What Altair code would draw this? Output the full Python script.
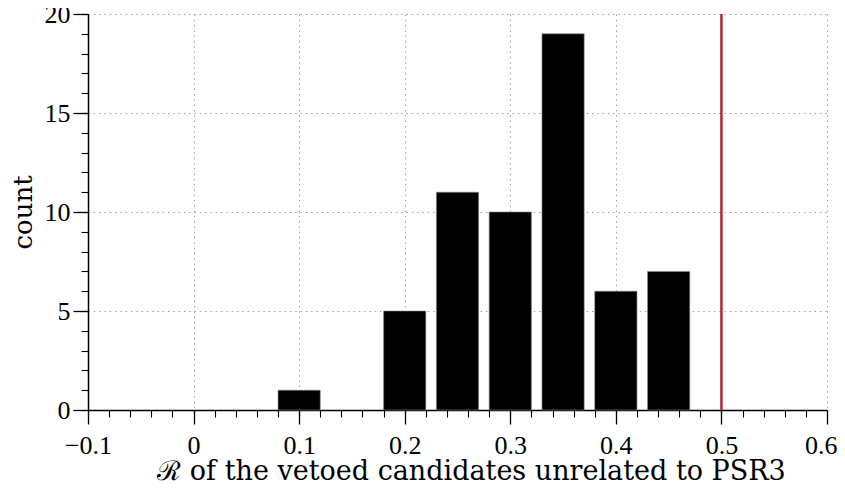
import altair as alt
import pandas as pd

# ---- data ----
bin_centers = [0.10, 0.20, 0.25, 0.30, 0.35, 0.40, 0.45]
bin_counts = [1, 5, 11, 10, 19, 6, 7]
bar_half_width = 0.02
threshold = [0.5]

x_major = [-0.1, 0.0, 0.1, 0.2, 0.3, 0.4, 0.5, 0.6]
x_minor = [round(-0.1 + 0.02 * i, 2) for i in range(36)]
y_major = [0, 5, 10, 15, 20]
y_minor = list(range(0, 21))

W, H = 739, 396
LABEL_FONT = "Liberation Serif"
TITLE_FONT = "DejaVu Serif"

df = pd.DataFrame({"center": bin_centers, "count": bin_counts})
thr = pd.DataFrame({"r": threshold})

xscale = alt.Scale(domain=[-0.1, 0.6], nice=False, zero=False)
yscale = alt.Scale(domain=[0, 20], nice=False)

x_axis = alt.Axis(
    orient="bottom", values=x_major, format="~g",
    tickSize=14, tickWidth=1.3, tickColor="black",
    domainColor="black", domainWidth=1.5,
    labelFont=LABEL_FONT, labelFontSize=26, labelColor="black",
    labelBaseline="alphabetic", labelPadding=29, labelFlush=False,
    labelAlign={"condition": {"test": "datum.value > 0.55", "value": "right"},
                "value": "center"},
    labelOffset={"condition": {"test": "datum.value > 0.55", "value": 10},
                 "value": 0},
    grid=True, gridDash=[1.5, 3.8], gridColor="#a0a0a0", gridWidth=1,
    title="\u211B of the vetoed candidates unrelated to PSR3",
    titleFont=TITLE_FONT, titleFontSize=27, titleFontWeight="normal",
    titleColor="black", titleBaseline="alphabetic", titleAlign="center",
    titleX=383, titleY=69,
)
y_axis = alt.Axis(
    orient="left", values=y_major,
    tickSize=15, tickWidth=1.3, tickColor="black",
    domainColor="black", domainWidth=1.5,
    labelFont=LABEL_FONT, labelFontSize=26, labelColor="black",
    labelPadding=3,
    grid=True, gridDash=[1.5, 3.8], gridColor="#a0a0a0", gridWidth=1,
    title="count", titleFont=TITLE_FONT, titleFontSize=26,
    titleFontWeight="normal", titleColor="black",
    titleAngle=-90, titleBaseline="alphabetic", titleAlign="center",
    titleX=-57, titleY=H / 2,
)
x_minor_axis = alt.Axis(
    orient="bottom", values=x_minor, tickSize=7, tickWidth=1.1,
    tickColor="black", labels=False, domain=False, grid=False, title=None,
)
y_minor_axis = alt.Axis(
    orient="left", values=y_minor, tickSize=7, tickWidth=1.1,
    tickColor="black", labels=False, domain=False, grid=False, title=None,
)

bars = (
    alt.Chart(df)
    .transform_calculate(
        lo=f"datum.center - {bar_half_width}",
        hi=f"datum.center + {bar_half_width}",
    )
    .mark_rect(color="black", stroke="#888888", strokeWidth=0.6)
    .encode(
        x=alt.X("lo:Q", scale=xscale, axis=x_axis),
        x2="hi:Q",
        y=alt.Y("count:Q", scale=yscale, axis=y_axis),
        y2=alt.Y2(datum=0),
    )
)

minor = (
    alt.Chart(df)
    .mark_point(opacity=0)
    .encode(
        x=alt.X("center:Q", scale=xscale, axis=x_minor_axis),
        y=alt.Y("count:Q", scale=yscale, axis=y_minor_axis),
    )
)

rule = (
    alt.Chart(thr)
    .mark_rule(color="#b8233a", strokeWidth=2.5)
    .encode(
        x=alt.X("r:Q", scale=xscale, axis=None),
        y=alt.Y(datum=0, scale=yscale, axis=None),
        y2=alt.Y2(datum=20),
    )
)

chart = (
    alt.layer(bars, minor, rule)
    .resolve_axis(x="independent", y="independent")
    .properties(
        width=W, height=H,
        autosize=alt.AutoSizeParams(type="none"),
        padding={"left": 80, "top": 6, "right": 10, "bottom": 72},
        background="white",
    )
    .configure_view(stroke=None)
)

chart.save("out.html", embed_options={"renderer": "svg", "actions": False})
